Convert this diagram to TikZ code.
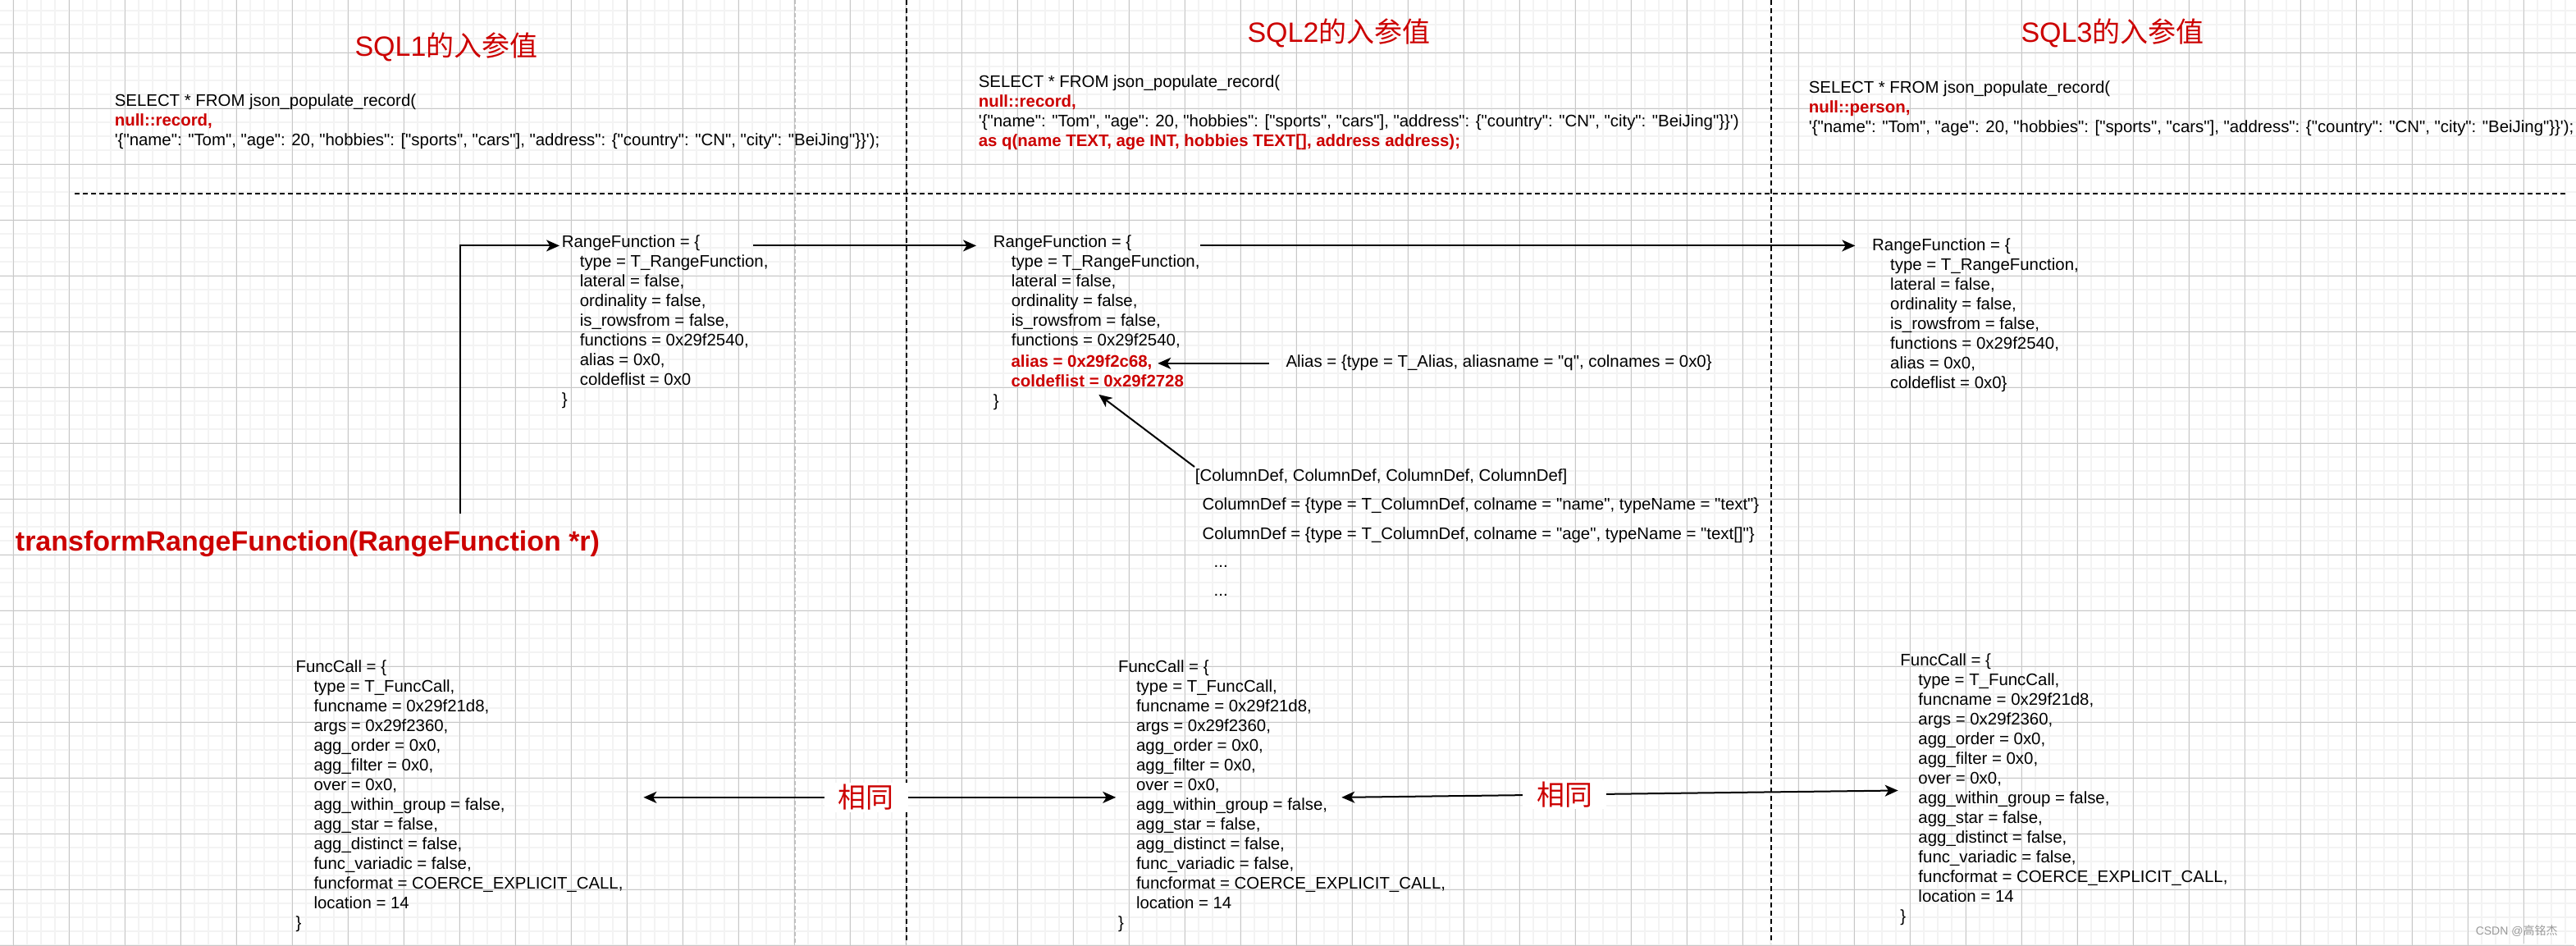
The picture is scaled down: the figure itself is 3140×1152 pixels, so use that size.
\documentclass[tikz,border=0pt]{standalone}
\usepackage{fontspec}
\usetikzlibrary{arrows.meta,positioning}

\newfontfamily\arialfont{Liberation Sans}
\newfontfamily\cjk{Noto Sans CJK SC}

\definecolor{sqlred}{RGB}{204,0,0}
\definecolor{gridminor}{RGB}{243,243,243}
\definecolor{gridmajor}{RGB}{200,200,200}
\definecolor{splitgray}{RGB}{190,190,190}

\newcommand\codesize{\fontsize{10.2}{12}\selectfont}
\newcommand\bigsize{\fontsize{17}{20}\selectfont}
\newcommand\hin{\hspace*{11pt}}
\newcommand\hot[1]{{\bfseries\color{sqlred}#1}}

\newcommand\fcbody{FuncCall = \{\\
    \hin type = T\_FuncCall,\\
    \hin funcname = 0x29f21d8,\\
    \hin args = 0x29f2360,\\
    \hin agg\_order = 0x0,\\
    \hin agg\_filter = 0x0,\\
    \hin over = 0x0,\\
    \hin agg\_within\_group = false,\\
    \hin agg\_star = false,\\
    \hin agg\_distinct = false,\\
    \hin func\_variadic = false,\\
    \hin funcformat = COERCE\_EXPLICIT\_CALL,\\
    \hin location = 14\\
    \}}

\tikzset{
    code/.style={font=\arialfont\codesize, align=left, inner sep=0pt, anchor=north west, execute at begin node=\strut},
    title/.style={font=\arialfont\bigsize, text=sqlred},
    call/.style={font=\arialfont\bfseries\bigsize, text=sqlred, inner xsep=0pt, inner ysep=10pt},
    same/.style={font=\cjk\bigsize, text=sqlred, fill=white, inner xsep=8.5pt, inner ysep=1pt},
    link/.style={line width=1pt},
    divider/.style={line width=0.85pt, dash pattern=on 3pt off 2pt},
    wmark/.style={font=\arialfont\fontsize{7}{8}\selectfont, text=black!40, anchor=east},
}

\begin{document}
\begin{tikzpicture}[x=0.5pt, y=-0.5pt, >={Stealth[length=8pt,width=7pt,inset=2.2pt]}, shorten >=1pt, line width=0.85pt]

    \useasboundingbox (0,0) rectangle (3140,1152);
    \fill[white] (0,0) rectangle (3140,1152);

    % grid
    \draw[gridminor, line width=1pt] \foreach \x in {16,33,...,3140} {(\x,0) -- (\x,1152)};
    \draw[gridminor, line width=1pt] \foreach \y in {13,30,...,1152} {(0,\y) -- (3140,\y)};
    \draw[gridmajor, line width=0.5pt] \foreach \x in {16,84,...,3140} {(\x,0) -- (\x,1152)};
    \draw[gridmajor, line width=0.5pt] \foreach \y in {64,132,...,1152} {(0,\y) -- (3140,\y)};

    % dividers
    \draw[splitgray, line width=0.85pt, dash pattern=on 2.5pt off 1.5pt] (969,0) -- (969,1152);
    \draw[divider] (1105,0) -- (1105,1152);
    \draw[divider] (2159,0) -- (2159,1152);
    \draw[divider] (91,236) -- (3132,236);

    % titles and queries
    \node[title] (sql1-title) at (544,57) {SQL1{\cjk 的入参值}};
    \node[title] (sql2-title) at (1632,40) {SQL2{\cjk 的入参值}};
    \node[title] (sql3-title) at (2575,40) {SQL3{\cjk 的入参值}};

    \node[code] (sql1) at (139,114) {SELECT * FROM json\_populate\_record(\\
        \hot{null::record,}\\
        '\{"name": "Tom", "age": 20, "hobbies": ["sports", "cars"], "address": \{"country": "CN", "city": "BeiJing"\}\}');};
    \node[code] (sql2) at (1192,91) {SELECT * FROM json\_populate\_record(\\
        \hot{null::record,}\\
        '\{"name": "Tom", "age": 20, "hobbies": ["sports", "cars"], "address": \{"country": "CN", "city": "BeiJing"\}\}')\\
        \hot{as q(name TEXT, age INT, hobbies TEXT[], address address);}};
    \node[code] (sql3) at (2204,98) {SELECT * FROM json\_populate\_record(\\
        \hot{null::person,}\\
        '\{"name": "Tom", "age": 20, "hobbies": ["sports", "cars"], "address": \{"country": "CN", "city": "BeiJing"\}\}');};

    % RangeFunction
    \node[code] (rf1) at (684,286) {RangeFunction = \{\\
        \hin type = T\_RangeFunction,\\
        \hin lateral = false,\\
        \hin ordinality = false,\\
        \hin is\_rowsfrom = false,\\
        \hin functions = 0x29f2540,\\
        \hin alias = 0x0,\\
        \hin coldeflist = 0x0\\
        \}};
    \node[code] (rf2) at (1210,286) {RangeFunction = \{\\
        \hin type = T\_RangeFunction,\\
        \hin lateral = false,\\
        \hin ordinality = false,\\
        \hin is\_rowsfrom = false,\\
        \hin functions = 0x29f2540,};
    \node[code] (rf2-alias) at (1231.7,430) {\hot{alias = 0x29f2c68,}};
    \node[code] (rf2-cols) at (1231.7,454) {\hot{coldeflist = 0x29f2728}};
    \node[code] (rf2-end) at (1210,478) {\}};
    \node[code] (rf3) at (2281.3,290) {RangeFunction = \{\\
        \hin type = T\_RangeFunction,\\
        \hin lateral = false,\\
        \hin ordinality = false,\\
        \hin is\_rowsfrom = false,\\
        \hin functions = 0x29f2540,\\
        \hin alias = 0x0,\\
        \hin coldeflist = 0x0\}};

    \node[call] (trf) at (375,663) {transformRangeFunction(RangeFunction *r)};

    % alias and column list
    \node[code] (alias) at (1566.7,430) {Alias = \{type = T\_Alias, aliasname = "q", colnames = 0x0\}};
    \node[code] (cols) at (1456,569) {[ColumnDef, ColumnDef, ColumnDef, ColumnDef]};
    \node[code, below right=4.8pt and 4.4pt of cols.south west] (coldef1) {ColumnDef = \{type = T\_ColumnDef, colname = "name", typeName = "text"\}};
    \node[code, below=5pt of coldef1.south west, anchor=north west] (coldef2) {ColumnDef = \{type = T\_ColumnDef, colname = "age", typeName = "text[]"\}};
    \node[code, below right=4.3pt and 7pt of coldef2.south west] (dots1) {...};
    \node[code, below=4.5pt of dots1.south west, anchor=north west] (dots2) {...};

    % FuncCall
    \node[code] (fc1) at (359.7,804) {\fcbody};
    \node[code] (fc2) at (1362.2,804) {\fcbody};
    \node[code] (fc3) at (2315.6,795.6) {\fcbody};

    \node[wmark] (csdn) at (3125,1135) {CSDN @{\cjk 高铭杰}};

    % connectors
    \draw[link, ->] ([xshift=93pt]trf.north) |- ([yshift=-6.7pt]rf1.north west);
    \draw[link, ->, shorten >=10pt] ([xshift=-9.5pt, yshift=-6.7pt]rf1.north east) -- ([yshift=-6.7pt]rf2.north west);
    \draw[link, ->, shorten >=10pt] ([yshift=-6.7pt]rf2.north east) -- ([yshift=-4.7pt]rf3.north west);
    \draw[link, ->, shorten <=10pt, shorten >=3pt] (alias.west) -- (rf2-alias.east);
    \draw[link, ->] (cols.north west) -- (rf2-cols.south);
    \draw[link, <->] ([xshift=12pt]fc1.east) -- node[same, pos=0.47] {相同} (fc2.west);
    \draw[link, <->] ([xshift=-63.8pt]fc2.east) -- node[same, pos=0.4] {相同} (fc3.west);

\end{tikzpicture}
\end{document}
